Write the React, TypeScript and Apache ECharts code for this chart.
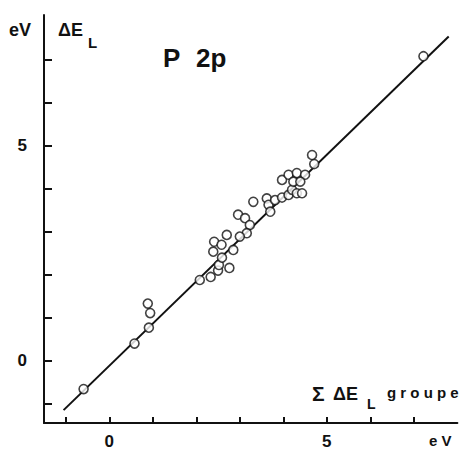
import React, { useEffect, useRef } from "react";
import * as echarts from "echarts";

const pointX = [
  -0.59, 0.58, 0.91, 0.94, 0.885, 2.08, 2.33, 2.5, 2.52, 2.76, 2.39, 2.41, 2.7, 2.58, 2.85, 2.59,
  2.96, 3.12, 3.23, 3.16, 3.0, 3.31, 3.62, 3.66, 3.7, 3.81, 3.97, 4.12, 4.2, 3.97, 4.12, 4.31,
  4.5, 4.23, 4.39, 4.31, 4.43, 4.66, 4.71, 7.22,
];
const pointY = [
  -0.66, 0.4, 0.77, 1.11, 1.33, 1.88, 1.95, 2.1, 2.23, 2.16, 2.54, 2.77, 2.93, 2.7, 2.58, 2.4,
  3.4, 3.32, 3.16, 2.97, 2.89, 3.7, 3.78, 3.63, 3.47, 3.74, 3.8, 3.86, 3.98, 4.21, 4.33, 4.37,
  4.33, 4.17, 4.17, 3.9, 3.9, 4.79, 4.58, 7.09,
];
const fitX = [-1.05, 7.8];
const fitY = [-1.15, 7.55];
const tickValues = [-1, 0, 1, 2, 3, 4, 5, 6, 7];
const labelValues = [0, 5];

const FONT = "Liberation Sans";

export default function App() {
  const ref = useRef<HTMLDivElement>(null);
  useEffect(() => {
    if (!ref.current) return;
    const chart = echarts.init(ref.current, undefined, { renderer: "svg" });
    const axisCommon = {
      type: "value",
      splitLine: { show: false },
      axisLine: { show: true, onZero: false, lineStyle: { color: "#111", width: 2 } },
    };
    const txt = (text: string, left: number, top: number, fontSize: number) => ({
      type: "text",
      left,
      top,
      style: { text, fontFamily: FONT, fontWeight: "bold", fontSize, fill: "#111" },
    });
    chart.setOption({
      animation: false,
      backgroundColor: "#fff",
      grid: { left: 44, top: 15, width: 413.4, height: 408.4 },
      xAxis: {
        ...axisCommon,
        min: -1.5,
        max: 8,
        axisTick: {
          show: true,
          inside: true,
          length: 6,
          customValues: tickValues,
          lineStyle: { color: "#111", width: 2 },
        },
        axisLabel: {
          customValues: labelValues,
          margin: 10,
          color: "#111",
          fontFamily: FONT,
          fontWeight: "bold",
          fontSize: 17,
        },
      },
      yAxis: {
        ...axisCommon,
        min: -1.45,
        max: 8.05,
        axisTick: {
          show: true,
          inside: true,
          length: 8,
          customValues: tickValues,
          lineStyle: { color: "#111", width: 2 },
        },
        axisLabel: {
          customValues: labelValues,
          margin: 17,
          color: "#111",
          fontFamily: FONT,
          fontWeight: "bold",
          fontSize: 17,
        },
      },
      series: [
        {
          type: "line",
          data: fitX.map((x, i) => [x, fitY[i]]),
          symbol: "none",
          lineStyle: { color: "#111", width: 2 },
          z: 1,
        },
        {
          type: "scatter",
          data: pointX.map((x, i) => [x, pointY[i]]),
          symbol: "circle",
          symbolSize: 9,
          itemStyle: { color: "#fff", borderColor: "#111", borderWidth: 1.6 },
          z: 2,
        },
      ],
      graphic: [
        txt("eV", 9, 21, 18),
        txt("ΔE", 58, 21, 18),
        txt("L", 88, 35, 15),
        txt("P", 163, 45, 26),
        txt("2p", 196, 45, 26),
        txt("Σ", 312, 383, 21),
        txt("ΔE", 333, 385, 18),
        txt("L", 367, 397, 14),
        txt("g r o u p e", 387, 385, 15),
        txt("e V", 429, 433, 15),
      ],
    });
    return () => chart.dispose();
  }, []);
  return (
    <div
      ref={ref}
      style={{ position: "fixed", left: 0, top: 0, width: 460, height: 450, background: "#fff" }}
    />
  );
}
